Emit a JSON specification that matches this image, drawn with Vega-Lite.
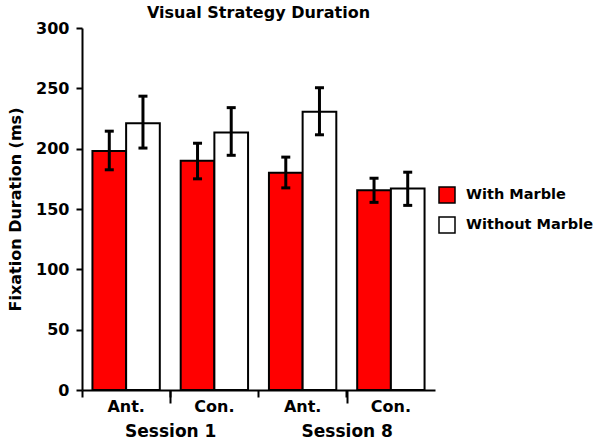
{
  "$schema": "https://vega.github.io/schema/vega-lite/v6.json",
  "width": 353,
  "height": 362,
  "autosize": {"type": "none"},
  "padding": {"left": 82, "top": 28, "right": 165, "bottom": 50},
  "config": {
    "font": "DejaVu Sans",
    "view": {"stroke": null},
    "axis": {
      "domainColor": "black", "domainWidth": 2, "tickColor": "black", "tickWidth": 2,
      "labelColor": "black", "labelFontWeight": "bold", "labelFont": "DejaVu Sans",
      "titleColor": "black", "titleFontWeight": "bold", "titleFont": "DejaVu Sans", "grid": false
    }
  },
  "title": {"text": "Visual Strategy Duration", "fontSize": 16, "fontWeight": "bold", "color": "black", "anchor": "middle", "offset": -1, "font": "DejaVu Sans"},
  "data": {"values": [
    {"key": "S1 Ant.", "session": "Session 1", "marble": "With Marble", "mean": 198, "lo": 182.5, "hi": 214.5},
    {"key": "S1 Ant.", "session": "Session 1", "marble": "Without Marble", "mean": 221, "lo": 200.5, "hi": 243.5},
    {"key": "S1 Con.", "session": "Session 1", "marble": "With Marble", "mean": 190, "lo": 175, "hi": 204.5},
    {"key": "S1 Con.", "session": "Session 1", "marble": "Without Marble", "mean": 213.5, "lo": 194.5, "hi": 234},
    {"key": "S8 Ant.", "session": "Session 8", "marble": "With Marble", "mean": 180, "lo": 167.5, "hi": 193},
    {"key": "S8 Ant.", "session": "Session 8", "marble": "Without Marble", "mean": 230.5, "lo": 211.5, "hi": 250.5},
    {"key": "S8 Con.", "session": "Session 8", "marble": "With Marble", "mean": 165.5, "lo": 155.5, "hi": 175.5},
    {"key": "S8 Con.", "session": "Session 8", "marble": "Without Marble", "mean": 167, "lo": 153, "hi": 180.5}
  ]},
  "layer": [
    {
      "encoding": {
        "x": {"field": "key", "type": "nominal", "sort": null,
          "scale": {"paddingInner": 0, "paddingOuter": 0},
          "axis": {"title": null, "labelAngle": 0, "bandPosition": 0, "tickSize": 7, "labelPadding": 1, "labelFontSize": 16,
                   "labelExpr": "slice(datum.label, 3)"}},
        "xOffset": {"field": "marble", "type": "nominal", "sort": ["With Marble", "Without Marble"],
          "scale": {"paddingInner": 0, "paddingOuter": 0.31}}
      },
      "layer": [
        {
          "mark": {"type": "bar", "stroke": "black", "strokeWidth": 2, "opacity": 1},
          "encoding": {
            "y": {"field": "mean", "type": "quantitative",
              "scale": {"domain": [0, 300], "nice": false},
              "axis": {"title": "Fixation Duration (ms)", "values": [0, 50, 100, 150, 200, 250, 300],
                       "tickSize": 6, "labelPadding": 7, "labelFontSize": 16, "titleFontSize": 16, "titlePadding": 12}},
            "fill": {"field": "marble", "type": "nominal",
              "scale": {"domain": ["With Marble", "Without Marble"], "range": ["#ff0000", "#ffffff"]},
              "legend": {"orient": "none", "legendX": 356, "legendY": 158, "title": null, "symbolType": "square",
                "symbolSize": 256, "symbolStrokeColor": "black", "symbolStrokeWidth": 1.5, "symbolOpacity": 1,
                "labelFontSize": 14.5, "labelFont": "DejaVu Sans", "labelFontWeight": "bold", "labelColor": "black",
                "rowPadding": 8, "labelOffset": 10, "padding": 0}}
          }
        },
        {
          "mark": {"type": "rule", "color": "black", "strokeWidth": 3},
          "encoding": {"y": {"field": "lo", "type": "quantitative"}, "y2": {"field": "hi"}}
        },
        {
          "mark": {"type": "tick", "color": "black", "thickness": 3, "size": 9, "opacity": 1},
          "encoding": {"y": {"field": "hi", "type": "quantitative"}}
        },
        {
          "mark": {"type": "tick", "color": "black", "thickness": 3, "size": 9, "opacity": 1},
          "encoding": {"y": {"field": "lo", "type": "quantitative"}}
        }
      ]
    },
    {
      "mark": {"type": "point", "opacity": 0},
      "encoding": {
        "x": {"field": "session", "type": "nominal",
          "scale": {"paddingInner": 0, "paddingOuter": 0},
          "axis": {"title": null, "orient": "bottom", "labelAngle": 0, "domain": false, "bandPosition": 0,
                   "tickSize": 13, "labelPadding": 20, "labelFontSize": 17}},
        "y": {"field": "mean", "type": "quantitative"}
      }
    }
  ],
  "resolve": {"scale": {"x": "independent"}}
}
